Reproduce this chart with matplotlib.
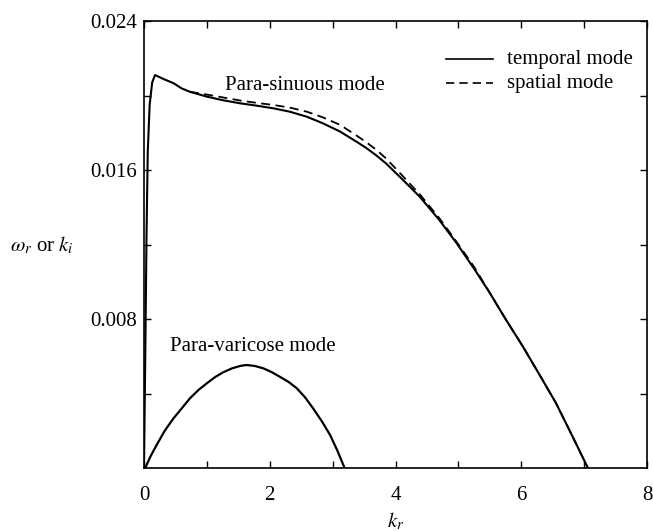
import matplotlib
matplotlib.use("Agg")
import matplotlib.pyplot as plt

# para-sinuous mode, temporal (solid)
sin_t_k = [0.0, 0.02, 0.04, 0.06, 0.09, 0.13, 0.175, 0.3, 0.47, 0.6, 0.73, 1.0, 1.25,
           1.53, 1.8, 2.06, 2.32, 2.59, 2.85, 3.12, 3.38, 3.54, 3.7, 3.85, 4.1, 4.39,
           4.7, 4.97, 5.25, 5.5, 5.75, 6.03, 6.3, 6.55, 6.8, 7.06]
sin_t_w = [0.0, 0.006, 0.0125, 0.0170, 0.0195, 0.0207, 0.0211, 0.0209, 0.02066,
           0.02038, 0.0202, 0.01994, 0.01975, 0.01958, 0.01945, 0.01931, 0.01913,
           0.01886, 0.0185, 0.01806, 0.01752, 0.01717, 0.01677, 0.01635, 0.01553,
           0.01455, 0.0133, 0.01208, 0.0107, 0.0094, 0.0080, 0.0065, 0.00495, 0.0035,
           0.0018, 0.0]

# para-sinuous mode, spatial (dashed)
sin_s_k = [0.73, 1.0, 1.25, 1.53, 1.8, 2.06, 2.32, 2.59, 2.85, 3.12, 3.38, 3.54, 3.7,
           3.85, 4.1, 4.39, 4.7, 4.97, 5.25, 5.5, 5.75, 6.03, 6.3, 6.55, 6.8, 7.06]
sin_s_w = [0.0202, 0.02005, 0.0199, 0.01973, 0.0196, 0.01949, 0.01935, 0.01913,
           0.01882, 0.01842, 0.01785, 0.01748, 0.01707, 0.01662, 0.01573, 0.01468,
           0.0134, 0.01215, 0.0108, 0.0094, 0.0080, 0.0065, 0.00495, 0.0035, 0.0018,
           0.0]

# para-varicose mode
var_k = [0.02, 0.1, 0.2, 0.33, 0.47, 0.6, 0.73, 0.87, 1.0, 1.13, 1.26, 1.4, 1.53, 1.63,
         1.76, 1.9, 2.03, 2.16, 2.3, 2.43, 2.56, 2.69, 2.83, 2.96, 3.08, 3.19]
var_w = [0.0, 0.0006, 0.00123, 0.002, 0.00267, 0.0032, 0.00374, 0.0042, 0.00455,
         0.00488, 0.00514, 0.00535, 0.00548, 0.00553, 0.00548, 0.00535, 0.00515,
         0.0049, 0.00462, 0.00428, 0.0038, 0.0032, 0.0025, 0.00177, 0.0009, 0.0]

plt.rcParams['font.family'] = ['Liberation Serif', 'DejaVu Serif']
plt.rcParams['mathtext.fontset'] = 'stix'

fig = plt.figure(figsize=(6.53, 5.31), dpi=100)
ax = fig.add_axes([144 / 653, 63 / 531, 503 / 653, 447 / 531])

ax.plot(sin_t_k, sin_t_w, color='black', lw=1.5)
ax.plot(sin_s_k, sin_s_w, color='black', lw=1.3, dashes=(5, 3))
ax.plot(var_k, var_w, color='black', lw=1.6)

ax.set_xlim(0, 8)
ax.set_ylim(0, 0.024)
ax.set_xticks([0, 2, 4, 6, 8])
ax.set_xticks([1, 3, 5, 7], minor=True)
ax.set_yticks([0.008, 0.016, 0.024])
ax.set_yticks([0.004, 0.012, 0.020], minor=True)
ax.set_xticklabels(['0', '2', '4', '6', '8'])
ax.set_yticklabels(['0.008', '0.016', '0.024'])
ax.tick_params(which='both', direction='in', top=True, right=True, labelsize=15,
               width=1, length=5)
ax.tick_params(axis='x', pad=13)
ax.tick_params(axis='y', pad=5)
ax.get_xticklabels()[0].set_x(-0.17)
for s in ax.spines.values():
    s.set_linewidth(1.2)

ax.text(-1.11, 0.01197, r'$\omega_r$' + ' or ' + r'$k_i$', fontsize=15, ha='right',
        va='center')
ax.set_xlabel(r'$k_r$', fontsize=15, labelpad=4)

ax.text(1.29, 0.02056, 'Para-sinuous mode', fontsize=15, va='center')
ax.text(0.41, 0.00651, 'Para-varicose mode', fontsize=15, va='center')

# legend
ax.plot([4.80, 5.55], [0.02194, 0.02194], color='black', lw=1.2)
ax.plot([4.80, 5.55], [0.02066, 0.02066], color='black', lw=1.2, dashes=(5, 3))
ax.text(5.77, 0.02194, 'temporal mode', fontsize=15, va='center')
ax.text(5.77, 0.02066, 'spatial mode', fontsize=15, va='center')

fig.savefig('out.png', dpi=100)
